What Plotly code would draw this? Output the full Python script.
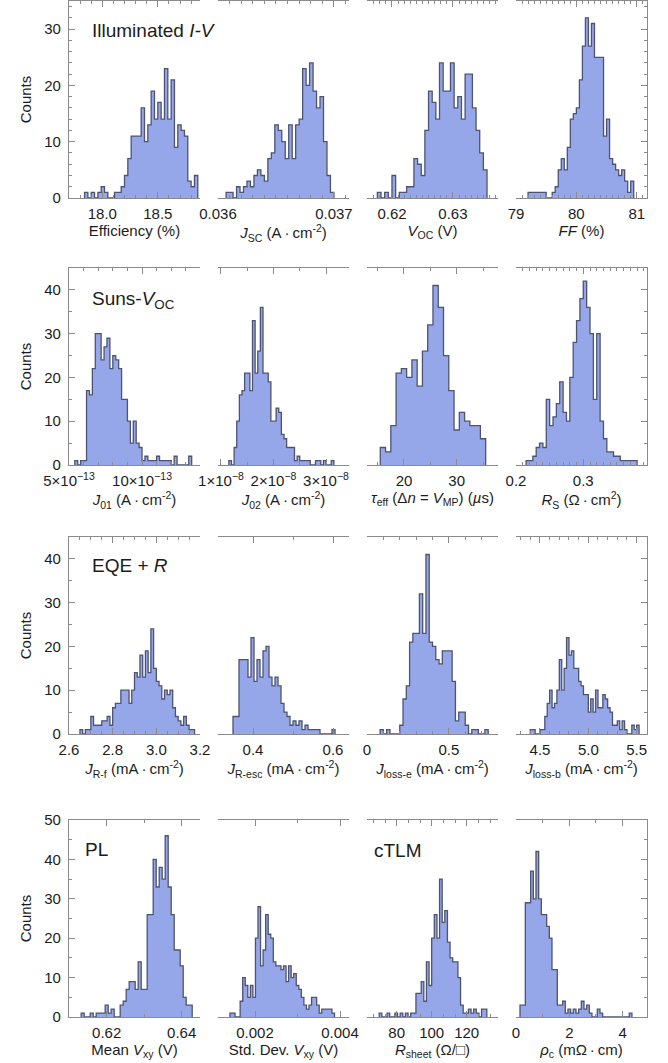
import plotly.graph_objects as go

# ---------------- histogram data (bin start, bin width, counts) ----------------
# Illuminated I-V
eff_start, eff_bin = 17.84, 0.03
eff_counts = [1, 0, 1, 0, 1, 2, 1, 0, 0, 1, 1, 2, 4, 7, 11, 11, 11, 16, 10, 13, 19, 14,
              17, 14, 23, 14, 21, 9, 13, 12, 11, 3, 2, 4]
jsc_start, jsc_bin = 0.03607, 0.00003
jsc_counts = [1, 1, 0, 2, 1, 2, 3, 2, 4, 5, 4, 3, 7, 8, 13, 12, 10, 7, 13, 7, 13, 14,
              23, 20, 24, 19, 16, 18, 10, 4, 1]
voc_start, voc_bin = 0.6176, 0.0006
voc_counts = [1, 0, 1, 0, 4, 0, 1, 1, 2, 2, 7, 6, 4, 12, 19, 17, 14, 24, 19, 19, 24,
              16, 18, 14, 22, 22, 16, 12, 8, 5]
ff_start, ff_bin = 79.2, 0.05
ff_counts = [1, 1, 1, 1, 1, 1, 0, 0, 1, 2, 5, 7, 5, 9, 14, 15, 16, 21, 27, 32, 27, 31,
             25, 25, 25, 11, 14, 7, 6, 5, 4, 5, 3, 1, 3]

# Suns-Voc
j01_start, j01_bin = 5.4e-13, 0.2e-13
j01_counts = [1, 0, 1, 1, 17, 16, 22, 30, 30, 24, 27, 29, 22, 25, 24, 22, 15, 15, 10, 5,
              10, 5, 4, 1, 2, 1, 1, 1, 2, 1, 1, 1, 1, 0, 2, 0, 0, 0, 0, 2]
j02_start, j02_bin = 1.15e-8, 0.05e-8
j02_counts = [1, 0, 4, 10, 16, 17, 21, 21, 17, 33, 21, 26, 36, 21, 21, 19, 10, 10, 13, 12,
              7, 6, 4, 4, 4, 1, 2, 1, 1, 1, 1, 0, 0, 1, 1, 0, 1, 0, 0, 1]
tau_start, tau_bin = 15.5, 1.0
tau_counts = [4, 3, 9, 21, 22, 20, 24, 18, 26, 32, 41, 36, 25, 17, 8, 12, 10, 9, 9, 6]
rs_start, rs_bin = 0.215, 0.005
rs_counts = [1, 1, 2, 4, 5, 4, 15, 9, 11, 14, 19, 12, 10, 20, 28, 33, 38, 42, 36, 30, 15,
             30, 10, 6, 3, 3, 2, 2, 1, 1, 1, 1, 1]

# EQE + R
jrf_start, jrf_bin = 2.65, 0.0125
jrf_counts = [1, 0, 1, 1, 4, 2, 2, 2, 3, 3, 4, 2, 6, 7, 7, 10, 10, 10, 7, 10, 14, 13, 18,
              13, 19, 14, 24, 15, 12, 11, 8, 10, 9, 10, 6, 4, 3, 2, 4, 2, 1, 1]
jresc_start, jresc_bin = 0.35, 0.0075
jresc_counts = [4, 4, 17, 17, 17, 13, 22, 12, 17, 13, 19, 20, 13, 11, 13, 11, 7, 5, 4, 2,
                3, 2, 3, 1, 2, 1, 1, 1, 1, 0, 0, 0, 0, 1]
jle_start, jle_bin = 0.08, 0.02
jle_counts = [1, 0, 1, 0, 0, 0, 2, 8, 11, 21, 23, 23, 32, 23, 41, 21, 20, 17, 16, 19, 19,
              19, 12, 3, 5, 5, 2, 0, 1, 1, 0, 0, 1]
jlb_start, jlb_bin = 4.40, 0.025
jlb_counts = [1, 1, 0, 0, 1, 1, 4, 7, 10, 6, 7, 10, 17, 10, 15, 22, 18, 19, 15, 15, 12,
              11, 9, 9, 5, 8, 5, 10, 6, 6, 9, 8, 6, 5, 2, 2, 3, 1, 3, 1, 0, 0, 2, 1, 2]

# PL and cTLM
vxy_start, vxy_bin = 0.6132, 0.0008
vxy_counts = [1, 0, 0, 1, 0, 1, 1, 1, 3, 1, 2, 0, 0, 3, 4, 7, 9, 9, 7, 14, 7, 7, 26, 26,
              40, 33, 38, 35, 46, 33, 26, 17, 17, 13, 5, 3, 3]
sdv_start, sdv_bin = 0.00141, 0.00006
sdv_counts = [1, 1, 0, 0, 4, 10, 8, 5, 8, 5, 20, 28, 13, 17, 26, 21, 20, 14, 13, 13, 12,
              13, 9, 13, 10, 11, 8, 7, 5, 3, 2, 3, 5, 5, 3, 1, 2, 2, 2, 2, 1]
rsh_start, rsh_bin = 70.0, 1.5
rsh_counts = [1, 0, 0, 1, 0, 0, 1, 0, 1, 0, 1, 0, 1, 1, 6, 6, 9, 4, 14, 8, 20, 26, 20,
              35, 24, 27, 19, 15, 14, 14, 10, 3, 1, 1, 2, 1, 2, 1, 0, 2, 2]
rhoc_start, rhoc_bin = 0.15, 0.1
rhoc_counts = [3, 3, 29, 29, 37, 30, 42, 30, 26, 26, 23, 20, 12, 12, 3, 3, 4, 1, 2, 1, 2,
               1, 2, 4, 2, 3, 1, 0, 0, 2, 1, 0, 0, 0, 0, 0, 0, 0, 0, 0, 0, 1]

# ---------------- styling ----------------
W, H = 668, 1063
FILL = "rgb(150,167,233)"
EDGE = "rgb(78,84,112)"
FRAME = "#8a8a8a"
TEXT = "#1c1c1c"
FONT = "Liberation Sans, Arial, Helvetica, sans-serif"

col_px = [(69, 200), (218, 349), (367, 498), (516, 647)]
row_px = [(1, 198), (268, 465), (537, 734), (820, 1017)]
row_ymax = [35, 45, 45, 50]
row_yminor = [2, 5, 5, 5]

CM2 = " (A\u2009·\u2009cm<sup>-2</sup>)"
MCM2 = " (mA\u2009·\u2009cm<sup>-2</sup>)"

panels = [
    # row 1
    dict(s=eff_start, w=eff_bin, c=eff_counts, xr=[17.7, 18.88],
         tv=[18.0, 18.5], tt=["18.0", "18.5"], md=0.1, m0=18.0,
         title="Efficiency (%)"),
    dict(s=jsc_start, w=jsc_bin, c=jsc_counts, xr=[0.036, 0.03713],
         tv=[0.036, 0.037], tt=["0.036", "0.037"], md=0.0001, m0=0.036,
         title="<i>J</i><sub>SC</sub>" + CM2),
    dict(s=voc_start, w=voc_bin, c=voc_counts, xr=[0.6159, 0.6374],
         tv=[0.62, 0.63], tt=["0.62", "0.63"], md=0.001, m0=0.62,
         title="<i>V</i><sub>OC</sub> (V)"),
    dict(s=ff_start, w=ff_bin, c=ff_counts, xr=[79.0, 81.17],
         tv=[79, 80, 81], tt=["79", "80", "81"], md=0.1, m0=79,
         title="<i>FF</i> (%)"),
    # row 2
    dict(s=j01_start, w=j01_bin, c=j01_counts, xr=[5.0e-13, 13.97e-13],
         tv=[5e-13, 10e-13], tt=["5×10<sup>−13</sup>", "10×10<sup>−13</sup>"],
         md=1e-13, m0=5e-13, title="<i>J</i><sub>01</sub>" + CM2),
    dict(s=j02_start, w=j02_bin, c=j02_counts, xr=[0.943e-8, 3.438e-8],
         tv=[1e-8, 2e-8, 3e-8],
         tt=["1×10<sup>−8</sup>", "2×10<sup>−8</sup>", "3×10<sup>−8</sup>"],
         md=0.5e-8, m0=1e-8, title="<i>J</i><sub>02</sub>" + CM2),
    dict(s=tau_start, w=tau_bin, c=tau_counts, xr=[12.98, 37.84],
         tv=[20, 30], tt=["20", "30"], md=5, m0=20,
         title="<i>τ</i><sub>eff</sub> (Δ<i>n</i> = <i>V</i><sub>MP</sub>) (<i>µ</i>s)"),
    dict(s=rs_start, w=rs_bin, c=rs_counts, xr=[0.2, 0.3947],
         tv=[0.2, 0.3], tt=["0.2", "0.3"], md=0.01, m0=0.2,
         title="<i>R</i><sub>S</sub> (Ω\u2009·\u2009cm<sup>2</sup>)"),
    # row 3
    dict(s=jrf_start, w=jrf_bin, c=jrf_counts, xr=[2.6, 3.2],
         tv=[2.6, 2.8, 3.0, 3.2], tt=["2.6", "2.8", "3.0", "3.2"], md=0.05, m0=2.6,
         title="<i>J</i><sub>R-f</sub>" + MCM2),
    dict(s=jresc_start, w=jresc_bin, c=jresc_counts, xr=[0.3125, 0.64],
         tv=[0.4, 0.6], tt=["0.4", "0.6"], md=0.1, m0=0.4,
         title="<i>J</i><sub>R-esc</sub>" + MCM2),
    dict(s=jle_start, w=jle_bin, c=jle_counts, xr=[0.0, 0.8],
         tv=[0.0, 0.5], tt=["0", "0.5"], md=0.1, m0=0.0,
         title="<i>J</i><sub>loss-e</sub>" + MCM2),
    dict(s=jlb_start, w=jlb_bin, c=jlb_counts, xr=[4.252, 5.607],
         tv=[4.5, 5.0, 5.5], tt=["4.5", "5.0", "5.5"], md=0.1, m0=4.5,
         title="<i>J</i><sub>loss-b</sub>" + MCM2),
    # row 4
    dict(s=vxy_start, w=vxy_bin, c=vxy_counts, xr=[0.60995, 0.64488],
         tv=[0.62, 0.64], tt=["0.62", "0.64"], md=0.01, m0=0.62,
         title="Mean <i>V</i><sub>xy</sub> (V)"),
    dict(s=sdv_start, w=sdv_bin, c=sdv_counts, xr=[0.001129, 0.004211],
         tv=[0.002, 0.004], tt=["0.002", "0.004"], md=0.001, m0=0.002,
         title="Std. Dev. <i>V</i><sub>xy</sub> (V)"),
    dict(s=rsh_start, w=rsh_bin, c=rsh_counts, xr=[63.03, 137.9],
         tv=[80, 100, 120], tt=["80", "100", "120"], md=20 / 3, m0=80,
         title="<i>R</i><sub>sheet</sub> (Ω/□)"),
    dict(s=rhoc_start, w=rhoc_bin, c=rhoc_counts, xr=[0.0, 4.915],
         tv=[0, 2, 4], tt=["0", "2", "4"], md=1, m0=0,
         title="<i>ρ</i><sub>c</sub> (mΩ\u2009·\u2009cm)"),
]


def step_outline(start, width, counts):
    """Points for an 'hv' step line that closes down to zero at both ends."""
    xs, ys = [start], [0]
    for i, c in enumerate(counts):
        xs.append(start + i * width)
        ys.append(c)
    xs.append(start + len(counts) * width)
    ys.append(0)
    return xs, ys


fig = go.Figure()
layout = dict(
    width=W, height=H,
    margin=dict(l=0, r=0, t=0, b=0, autoexpand=False),
    paper_bgcolor="white", plot_bgcolor="white",
    showlegend=False,
    font=dict(family=FONT, size=15, color=TEXT),
)

tickfont = dict(family=FONT, size=15, color=TEXT)

for k, p in enumerate(panels):
    r, c = divmod(k, 4)
    n = k + 1
    xs, ys = step_outline(p["s"], p["w"], p["c"])
    fig.add_trace(go.Scatter(
        x=xs, y=ys, mode="lines", line=dict(shape="hv", color=EDGE, width=1.3),
        fill="tozeroy", fillcolor=FILL, hoverinfo="skip",
        xaxis=f"x{n}", yaxis=f"y{n}",
    ))

    x0, x1 = col_px[c]
    y0, y1 = row_px[r]
    layout[f"xaxis{n}"] = dict(
        domain=[x0 / W, x1 / W], range=p["xr"], anchor=f"y{n}",
        automargin=False,
        showline=True, linecolor=FRAME, linewidth=1.3, mirror="ticks",
        ticks="inside", ticklen=6, tickwidth=1, tickcolor=FRAME,
        tickmode="array", tickvals=p["tv"], ticktext=p["tt"],
        minor=dict(ticks="inside", ticklen=3, tickwidth=1, tickcolor=FRAME,
                   dtick=p["md"], tick0=p["m0"], showgrid=False),
        tickfont=tickfont, ticklabelstandoff=2,
        title=dict(text=p["title"], font=dict(family=FONT, size=15, color=TEXT),
                   standoff=3),
        showgrid=False, zeroline=False, fixedrange=True,
    )
    yax = dict(
        domain=[1 - y1 / H, 1 - y0 / H], range=[0, row_ymax[r]], anchor=f"x{n}",
        automargin=False,
        showgrid=False, zeroline=False, fixedrange=True,
    )
    if c == 0:
        yax.update(
            showline=True, linecolor=FRAME, linewidth=1.3,
            ticks="inside", ticklen=6, tickwidth=1, tickcolor=FRAME,
            tickmode="linear", tick0=0, dtick=10,
            minor=dict(ticks="inside", ticklen=3, tickwidth=1, tickcolor=FRAME,
                       dtick=row_yminor[r], tick0=0, showgrid=False),
            tickfont=tickfont, ticklabelstandoff=4,
            title=dict(text="Counts", font=dict(family=FONT, size=15, color=TEXT),
                       standoff=8),
        )
    elif c == 3:
        yax.update(
            side="right", showline=True, linecolor=FRAME, linewidth=1.3,
            ticks="inside", ticklen=6, tickwidth=1, tickcolor=FRAME,
            tickmode="linear", tick0=0, dtick=10, showticklabels=False,
            minor=dict(ticks="inside", ticklen=3, tickwidth=1, tickcolor=FRAME,
                       dtick=row_yminor[r], tick0=0, showgrid=False),
        )
    else:
        yax.update(visible=False)
    layout[f"yaxis{n}"] = yax

# Measurement-group labels inside the panels
group_labels = [
    ("Illuminated <i>I-V</i>", 90, 30),
    ("Suns-<i>V</i><sub>OC</sub>", 90, 300),
    ("EQE + <i>R</i>", 90, 565),
    ("PL", 83, 849),
    ("cTLM", 372, 850),
]
layout["annotations"] = [
    dict(text=t, x=x / W, y=1 - y / H, xref="paper", yref="paper",
         xanchor="left", yanchor="middle", showarrow=False,
         font=dict(family=FONT, size=19, color=TEXT))
    for t, x, y in group_labels
]

fig.update_layout(**layout)
fig.write_html("out.html")
